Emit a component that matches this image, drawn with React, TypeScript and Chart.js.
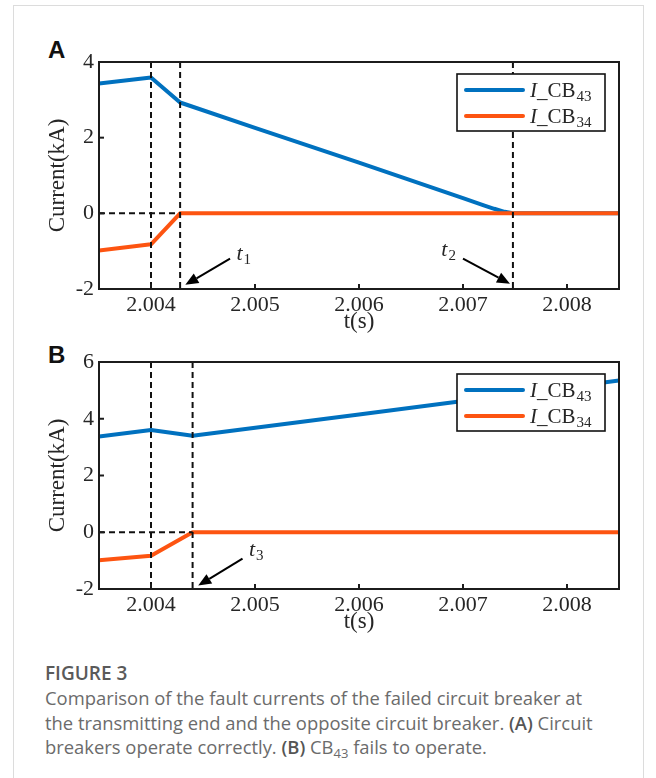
import React, { useEffect, useRef } from 'react';
import { Chart, registerables } from 'chart.js';
Chart.register(...registerables);

// ---------- data ----------
const xTickValues = [2.004, 2.005, 2.006, 2.007, 2.008];
const xMin = 2.0035;
const xMax = 2.0085;

// Panel A: circuit breakers operate correctly
const timeA43 = [2.0035, 2.004, 2.00428, 2.005, 2.006, 2.007, 2.0072, 2.0073, 2.0074, 2.00748, 2.0085];
const currentA43 = [3.43, 3.59, 2.93, 2.26, 1.34, 0.4, 0.21, 0.12, 0.04, 0, 0];
const timeA34 = [2.0035, 2.004, 2.00428, 2.0085];
const currentA34 = [-0.98, -0.82, 0, 0];
const yTicksA = [-2, 0, 2, 4];
const eventsA = [2.004, 2.00428, 2.00748];
// arrow annotations: [tipX, tipY, tailX, tailY, labelX, labelY, subscript]
const arrowsA: [number, number, number, number, number, number, string][] = [
  [2.00433, -1.89, 2.00476, -1.2, 2.00487, -1.07, '1'],
  [2.007452, -1.86, 2.007, -1.2, 2.00684, -0.98, '2'],
];

// Panel B: CB43 fails to operate
const timeB43 = [2.0035, 2.004, 2.0044, 2.006, 2.0075, 2.0085];
const currentB43 = [3.37, 3.6, 3.4, 4.15, 4.86, 5.35];
const timeB34 = [2.0035, 2.004, 2.0044, 2.0085];
const currentB34 = [-0.99, -0.83, 0, 0];
const yTicksB = [-2, 0, 2, 4, 6];
const eventsB = [2.004, 2.0044];
const arrowsB: [number, number, number, number, number, number, string][] = [
  [2.004454, -1.88, 2.00488, -0.93, 2.00499, -0.64, '3'],
];

const seriesNames = [['I', '_CB', '43'], ['I', '_CB', '34']];

// ---------- styles ----------
const BLUE = '#0071BF';
const ORANGE = '#FD5411';
const INK = '#262626';
const SERIF = 'Liberation Serif';

function pts(xs: number[], ys: number[]) {
  return xs.map((x, i) => ({ x, y: ys[i] }));
}

function makePlugin(events: number[], arrows: any[]) {
  return {
    id: 'decor',
    afterDatasetsDraw(chart: any) {
      const ctx = chart.ctx;
      const { left, right, top, bottom } = chart.chartArea;
      const xs = chart.scales.x;
      const ys = chart.scales.y;
      ctx.save();
      // dashed event lines
      ctx.strokeStyle = '#111';
      ctx.lineWidth = 2;
      ctx.setLineDash([6, 4]);
      events.forEach((t) => {
        const px = xs.getPixelForValue(t);
        ctx.beginPath();
        ctx.moveTo(px, top);
        ctx.lineTo(px, bottom);
        ctx.stroke();
      });
      const y0 = ys.getPixelForValue(0);
      ctx.beginPath();
      ctx.moveTo(left, y0);
      ctx.lineTo(xs.getPixelForValue(events[1]), y0);
      ctx.stroke();
      ctx.setLineDash([]);

      // frame
      ctx.strokeStyle = '#1c1c1c';
      ctx.lineWidth = 2;
      ctx.strokeRect(left, top, right - left, bottom - top);
      // inward ticks
      xs.ticks.forEach((tk: any) => {
        const px = xs.getPixelForValue(tk.value);
        ctx.beginPath();
        ctx.moveTo(px, bottom);
        ctx.lineTo(px, bottom - 5);
        ctx.stroke();
      });
      ys.ticks.forEach((tk: any) => {
        const py = ys.getPixelForValue(tk.value);
        ctx.beginPath();
        ctx.moveTo(left, py);
        ctx.lineTo(left + 5, py);
        ctx.stroke();
      });

      // arrows + labels
      arrows.forEach((a: any) => {
        const tx = xs.getPixelForValue(a[0]);
        const ty = ys.getPixelForValue(a[1]);
        const sx = xs.getPixelForValue(a[2]);
        const sy = ys.getPixelForValue(a[3]);
        const ang = Math.atan2(ty - sy, tx - sx);
        const hl = 13, hw = 5.5;
        const bx = tx - hl * Math.cos(ang);
        const by = ty - hl * Math.sin(ang);
        ctx.strokeStyle = '#000';
        ctx.fillStyle = '#000';
        ctx.lineWidth = 2;
        ctx.beginPath();
        ctx.moveTo(sx, sy);
        ctx.lineTo(bx, by);
        ctx.stroke();
        ctx.beginPath();
        ctx.moveTo(tx, ty);
        ctx.lineTo(bx + hw * Math.sin(ang), by - hw * Math.cos(ang));
        ctx.lineTo(bx - hw * Math.sin(ang), by + hw * Math.cos(ang));
        ctx.closePath();
        ctx.fill();
        const lx = xs.getPixelForValue(a[4]);
        const ly = ys.getPixelForValue(a[5]);
        ctx.fillStyle = INK;
        ctx.textBaseline = 'alphabetic';
        ctx.textAlign = 'left';
        ctx.font = `italic 22px "${SERIF}"`;
        ctx.fillText('t', lx - 5, ly + 6);
        const w = ctx.measureText('t').width;
        ctx.font = `15px "${SERIF}"`;
        ctx.fillText(a[6], lx - 5 + w + 1, ly + 10);
      });

      // legend
      const bxL = right - 162, byT = top + 12, bw = 148, bh = 57;
      ctx.fillStyle = '#fff';
      ctx.fillRect(bxL, byT, bw, bh);
      ctx.strokeStyle = '#111';
      ctx.lineWidth = 1.6;
      ctx.strokeRect(bxL, byT, bw, bh);
      const colors = [BLUE, ORANGE];
      seriesNames.forEach((nm, i) => {
        const cy = byT + 16 + i * 26;
        ctx.strokeStyle = colors[i];
        ctx.lineWidth = 4;
        ctx.lineCap = 'round';
        ctx.beginPath();
        ctx.moveTo(bxL + 9, cy);
        ctx.lineTo(bxL + 66, cy);
        ctx.stroke();
        ctx.lineCap = 'butt';
        ctx.fillStyle = INK;
        ctx.textAlign = 'left';
        ctx.textBaseline = 'alphabetic';
        let x = bxL + 73;
        const base = cy + 7;
        ctx.font = `italic 21px "${SERIF}"`;
        ctx.fillText(nm[0], x, base);
        x += ctx.measureText(nm[0]).width;
        ctx.font = `21px "${SERIF}"`;
        ctx.fillText(nm[1], x, base);
        x += ctx.measureText(nm[1]).width;
        ctx.font = `15px "${SERIF}"`;
        ctx.fillText(nm[2], x + 1, base + 4);
      });
      ctx.restore();
    },
  };
}

function makeConfig(d43: any[], d34: any[], yTicks: number[], events: number[], arrows: any[]) {
  return {
    type: 'line',
    data: {
      datasets: [
        {
          label: 'I_CB43', data: d43, borderColor: BLUE, backgroundColor: BLUE, borderWidth: 4,
          pointRadius: 0, tension: 0, order: 1, borderJoinStyle: 'round', borderCapStyle: 'round',
        },
        {
          label: 'I_CB34', data: d34, borderColor: ORANGE, backgroundColor: ORANGE, borderWidth: 4,
          pointRadius: 0, tension: 0, order: 0, borderJoinStyle: 'round', borderCapStyle: 'round',
        },
      ],
    },
    options: {
      animation: false,
      responsive: false,
      maintainAspectRatio: false,
      layout: { padding: { top: 22, right: 15, left: 0, bottom: 0 } },
      plugins: { legend: { display: false }, tooltip: { enabled: false } },
      scales: {
        x: {
          type: 'linear', min: xMin, max: xMax,
          grid: { display: false, drawTicks: false, tickLength: 0 }, border: { display: false },
          afterBuildTicks: (s: any) => { s.ticks = xTickValues.map((v) => ({ value: v })); },
          afterFit: (s: any) => { s.height = 51; },
          ticks: {
            padding: 3, color: INK, autoSkip: false, maxRotation: 0,
            font: { family: SERIF, size: 22 },
            callback: (v: any) => Number(v).toFixed(3),
          },
          title: {
            display: true, text: 't(s)', color: INK,
            font: { family: SERIF, size: 23 }, padding: { top: 0, bottom: 4 },
          },
        },
        y: {
          type: 'linear', min: yTicks[0], max: yTicks[yTicks.length - 1],
          grid: { display: false, drawTicks: false, tickLength: 0 }, border: { display: false },
          afterBuildTicks: (s: any) => { s.ticks = yTicks.map((v) => ({ value: v })); },
          afterFit: (s: any) => { s.width = 85; },
          ticks: {
            padding: 5, color: INK, autoSkip: false,
            font: { family: SERIF, size: 22 },
            callback: (v: any) => String(v),
          },
          title: {
            display: true, text: 'Current(kA)', color: INK,
            font: { family: SERIF, size: 23 }, padding: { top: 30, bottom: 0 },
          },
        },
      },
    },
    plugins: [makePlugin(events, arrows)],
  };
}

function Panel(props: { cfg: () => any; top: number }) {
  const ref = useRef<HTMLCanvasElement | null>(null);
  useEffect(() => {
    const chart = new Chart(ref.current as HTMLCanvasElement, props.cfg());
    return () => chart.destroy();
  }, []);
  return (
    <canvas
      ref={ref}
      width={620}
      height={300}
      style={{ position: 'absolute', left: 14, top: props.top, width: 620, height: 300 }}
    />
  );
}

const panelLabel = (txt: string, top: number) => (
  <div
    style={{
      position: 'absolute', left: 48, top, font: 'bold 24px "Liberation Sans", Arial, sans-serif',
      color: '#111', lineHeight: '24px',
    }}
  >
    {txt}
  </div>
);

export default function App() {
  const cfgA = () => makeConfig(pts(timeA43, currentA43), pts(timeA34, currentA34), yTicksA, eventsA, arrowsA);
  const cfgB = () => makeConfig(pts(timeB43, currentB43), pts(timeB34, currentB34), yTicksB, eventsB, arrowsB);
  const capFont = '"Open Sans", "Noto Sans", sans-serif';
  return (
    <div style={{ position: 'fixed', left: 0, top: 0, width: 656, height: 778, overflow: 'hidden', background: '#fff' }}>
      <div style={{ position: 'absolute', left: 13, top: 5, width: 629, height: 820, border: '1px solid #dcdcdc' }} />
      {panelLabel('A', 38)}
      {panelLabel('B', 343)}
      <Panel cfg={cfgA} top={40} />
      <Panel cfg={cfgB} top={340} />
      <div style={{ position: 'absolute', left: 45, top: 660, font: `600 19px ${capFont}`, lineHeight: '26px', color: '#5a5a5a' }}>
        FIGURE 3
      </div>
      <div style={{ position: 'absolute', left: 45, top: 686, font: `18.4px ${capFont}`, lineHeight: '24.5px', color: '#6b6b6b', whiteSpace: 'nowrap' }}>
        Comparison of the fault currents of the failed circuit breaker at<br />
        the transmitting end and the opposite circuit breaker. <span style={{ fontWeight: 600, color: '#555' }}>(A)</span> Circuit<br />
        breakers operate correctly. <span style={{ fontWeight: 600, color: '#555' }}>(B)</span> CB
        <span style={{ fontSize: 13, position: 'relative', top: 4 }}>43</span> fails to operate.
      </div>
    </div>
  );
}
